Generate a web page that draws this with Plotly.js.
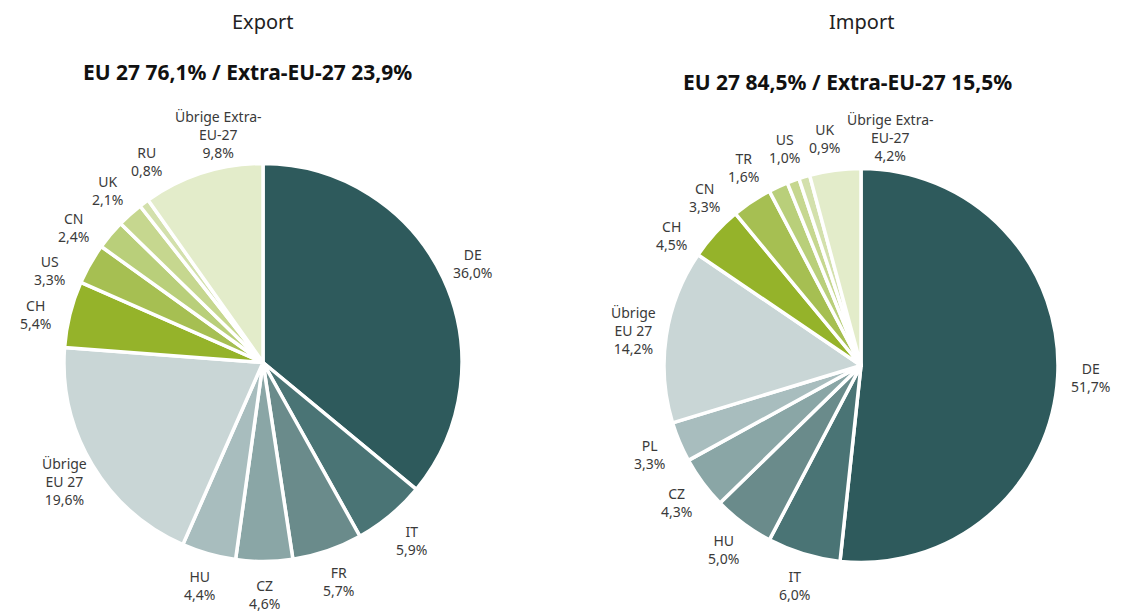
<!DOCTYPE html>
<html><head><meta charset="utf-8">
<script src="https://cdn.plot.ly/plotly-3.0.1.min.js"></script>
<style>html,body{margin:0;padding:0;background:#fff}#chart{width:1121px;height:612px}</style>
</head><body><div id="chart"></div>
<script>
const exportLabels = ["DE","IT","FR","CZ","HU","Übrige<br>EU 27","CH","US","CN","UK","RU","Übrige Extra-<br>EU-27"];
const exportValues = [36.0,5.9,5.7,4.6,4.4,19.6,5.4,3.3,2.4,2.1,0.8,9.8];
const importLabels = ["DE","IT","HU","CZ","PL","Übrige<br>EU 27","CH","CN","TR","US","UK","Übrige Extra-<br>EU-27"];
const importValues = [51.7,6.0,5.0,4.3,3.3,14.2,4.5,3.3,1.6,1.0,0.9,4.2];
const sliceColors = ["#2e5a5c","#4a7475","#6a8b8b","#8aa6a6","#a8bdbe","#c9d6d6","#95b32a","#a6bf52","#b9cf7a","#c6d78f","#d3e0ac","#e3ecca"];

const W = 1121, H = 612;
const fam = "Noto Sans, DejaVu Sans, sans-serif";
function fmt(v){ return v.toFixed(1).replace('.', ','); }

const exportDomain = {x:[64/W, 462/W], y:[1-562/H, 1-163/H]};
const importDomain = {x:[664/W, 1058/W], y:[1-563/H, 1-168/H]};

function pieTrace(labels, values, domain, prefix){
  return {type:'pie', labels: labels.map(s=>prefix+s), values: values, textinfo:'none', sort:false,
    direction:'clockwise', rotation:0, marker:{colors: sliceColors, line:{color:'#fff', width:3.5}},
    showlegend:false, domain: domain, hoverinfo:'none'};
}

// label annotations placed around each pie from the slice mid-angles,
// nudged apart so neighbouring labels do not overlap
function labelAnnotations(labels, values, domain){
  const total = values.reduce((a,b)=>a+b,0);
  const cx = (domain.x[0]+domain.x[1])/2*W;
  const cy = (1-(domain.y[0]+domain.y[1])/2)*H;
  const r = Math.min((domain.x[1]-domain.x[0])*W, (domain.y[1]-domain.y[0])*H)/2;
  const dist = r + 33;
  const texts = labels.map((l,i)=> l+'<br>'+fmt(values[i])+'%');
  const lines = texts.map(t=>t.split('<br>'));
  const wid = lines.map(ls=>Math.max(...ls.map(s=>s.length))*7.2);
  const hei = lines.map(ls=>ls.length*18);
  let cum = 0;
  const ang = values.map(v=>{ const a = (cum + v/2)/total*360; cum += v; return a; });
  for(let it=0; it<400; it++){
    for(let i=0;i<ang.length-1;i++){
      const m = ((ang[i]+ang[i+1])/2)*Math.PI/180;
      const need = Math.abs(Math.cos(m))*((wid[i]+wid[i+1])/2+4) + Math.abs(Math.sin(m))*((hei[i]+hei[i+1])/2+2);
      const minSep = need/dist*180/Math.PI;
      const d = ang[i+1]-ang[i];
      if(d < minSep){ const p=(minSep-d)/2*0.5; ang[i]-=p; ang[i+1]+=p; }
    }
  }
  return texts.map((t,i)=>{
    const a = ang[i]*Math.PI/180;
    const px = cx + Math.sin(a)*dist, py = cy - Math.cos(a)*dist;
    return {text: t, x:px/W, y:1-py/H, xref:'paper', yref:'paper',
      xanchor:'center', yanchor:'middle', showarrow:false, align:'center',
      font:{family:fam, size:14, color:'#3a3a3a'}};
  });
}

const traces = [
  pieTrace(exportLabels, exportValues, exportDomain, 'E '),
  pieTrace(importLabels, importValues, importDomain, 'I ')
];

const titles = [
  {text:'Export', x:263/W, y:1-22/H, xref:'paper', yref:'paper', xanchor:'center', yanchor:'middle', showarrow:false, font:{family:fam, size:20, color:'#222'}},
  {text:'Import', x:861/W, y:1-22/H, xref:'paper', yref:'paper', xanchor:'center', yanchor:'middle', showarrow:false, font:{family:fam, size:20, color:'#222'}},
  {text:'<b>EU 27 76,1% / Extra-EU-27 23,9%</b>', x:247/W, y:1-72/H, xref:'paper', yref:'paper', xanchor:'center', yanchor:'middle', showarrow:false, font:{family:fam, size:21, color:'#111'}},
  {text:'<b>EU 27 84,5% / Extra-EU-27 15,5%</b>', x:847/W, y:1-82/H, xref:'paper', yref:'paper', xanchor:'center', yanchor:'middle', showarrow:false, font:{family:fam, size:21, color:'#111'}}
];

const layout = {
  width:W, height:H, margin:{l:0,r:0,t:0,b:0}, paper_bgcolor:'#fff', showlegend:false,
  annotations: titles.concat(labelAnnotations(exportLabels, exportValues, exportDomain),
                             labelAnnotations(importLabels, importValues, importDomain))
};
Plotly.newPlot('chart', traces, layout, {displayModeBar:false, staticPlot:true});
</script></body></html>
